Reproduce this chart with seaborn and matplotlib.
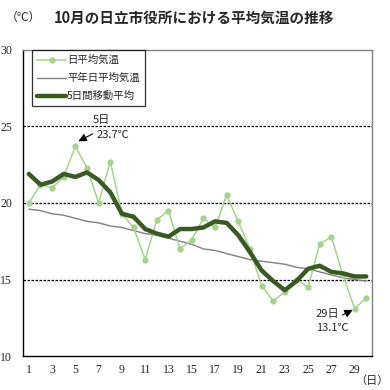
import numpy as np
import pandas as pd
import seaborn as sns
import matplotlib.pyplot as plt

# daily data for October (day of month)
days = list(range(1, 31))
daily_mean = [20.0, 21.2, 21.0, 21.7, 23.7, 22.3, 20.0, 22.7, 19.3, 18.4,
              16.3, 18.9, 19.5, 17.0, 17.6, 19.0, 18.4, 20.5, 18.8, 17.0,
              14.6, 13.6, 14.2, 15.0, 14.5, 17.3, 17.8, 15.3, 13.1, 13.8]
normal_mean = [19.6, 19.5, 19.3, 19.2, 19.0, 18.8, 18.7, 18.5, 18.4, 18.2,
               18.0, 17.9, 17.7, 17.5, 17.3, 17.0, 16.9, 16.7, 16.5, 16.3,
               16.2, 16.1, 16.0, 15.8, 15.7, 15.5, 15.3, 15.1, 15.0, 14.9]
moving_avg = [21.9, 21.2, 21.4, 21.9, 21.7, 22.0, 21.5, 20.7, 19.3, 19.1,
              18.3, 18.0, 17.8, 18.3, 18.3, 18.4, 18.8, 18.7, 17.9, 16.8,
              15.6, 14.9, 14.3, 14.9, 15.7, 15.9, 15.5, 15.4, 15.2, 15.2]
series_names = ['日平均気温', '平年日平均気温', '5日間移動平均']
y_ticks = [10, 15, 20, 25, 30]

df = pd.DataFrame({'day': days, series_names[0]: daily_mean,
                   series_names[1]: normal_mean, series_names[2]: moving_avg})

sns.set_style('white')
plt.rcParams['font.family'] = ['Noto Sans CJK JP', 'DejaVu Sans']

fig = plt.figure(figsize=(3.9, 3.9), dpi=100)
ax = fig.add_axes([0.059, 0.087, 0.895, 0.785])

# dashed reference lines
for y in [15, 20, 25]:
    ax.axhline(y, color='black', lw=0.9, ls=(0, (2, 1.2)), zorder=1)

sns.lineplot(data=df, x='day', y=series_names[0], ax=ax, color='#a9d18e',
             lw=1.1, marker='o', markersize=4.5, markeredgewidth=0,
             label=series_names[0], zorder=3)
sns.lineplot(data=df, x='day', y=series_names[1], ax=ax, color='#808080',
             lw=1.0, label=series_names[1], zorder=2)
sns.lineplot(data=df, x='day', y=series_names[2], ax=ax, color='#3b5a23',
             lw=3.2, label=series_names[2], zorder=4)

ax.set_xlim(0.5, 30.5)
ax.set_ylim(10, 30)
ax.set_xlabel('')
ax.set_ylabel('')

ax.set_xticks(days)
ax.set_xticklabels([str(d) if d % 2 == 1 else '' for d in days],
                   family='Liberation Serif', fontsize=8.5)
ax.tick_params(axis='x', direction='in', length=3, width=0.8, pad=6)
ax.set_yticks(y_ticks)
ax.set_yticklabels([str(v) for v in y_ticks], family='Liberation Serif', fontsize=8.5)
ax.tick_params(axis='y', length=0, pad=8)

for side in ['left', 'bottom']:
    ax.spines[side].set_color('black')
    ax.spines[side].set_linewidth(1.0)
for side in ['top', 'right']:
    ax.spines[side].set_color('#808080')
    ax.spines[side].set_linewidth(1.0)

leg = ax.legend(loc='upper left', bbox_to_anchor=(0.025, 1.0), fontsize=7.5,
                frameon=True, fancybox=False, handlelength=2.8,
                handletextpad=0.1, borderpad=0.5, labelspacing=0.75,
                borderaxespad=0)
leg.get_frame().set_edgecolor('black')
leg.get_frame().set_linewidth(0.9)

# annotations for the max and min
ax.annotate('', xy=(5.05, 23.95), xytext=(6.7, 24.6),
            arrowprops=dict(arrowstyle='-|>', color='black', lw=0.8,
                            mutation_scale=12))
ax.text(7.2, 25.1, '5日', fontsize=8, ha='center', va='bottom')
ax.text(6.8, 24.45, '23.7℃', fontsize=8, ha='left', va='center')
ax.annotate('', xy=(29.05, 13.1), xytext=(27.75, 12.6),
            arrowprops=dict(arrowstyle='-|>', color='black', lw=0.8,
                            mutation_scale=12))
ax.text(27.65, 12.75, '29日', fontsize=8, ha='right', va='center')
ax.text(27.1, 11.83, '13.1℃', fontsize=8, ha='center', va='center')

fig.text(0.015, 0.955, '（℃）', fontsize=8.5, ha='left', va='center')
fig.text(0.497, 0.955, '10月の日立市役所における平均気温の推移', fontsize=10.5,
         fontweight='bold', ha='center', va='center')
fig.text(0.996, 0.024, '（日）', fontsize=8, ha='right', va='center')

fig.savefig('out.png', dpi=100)
